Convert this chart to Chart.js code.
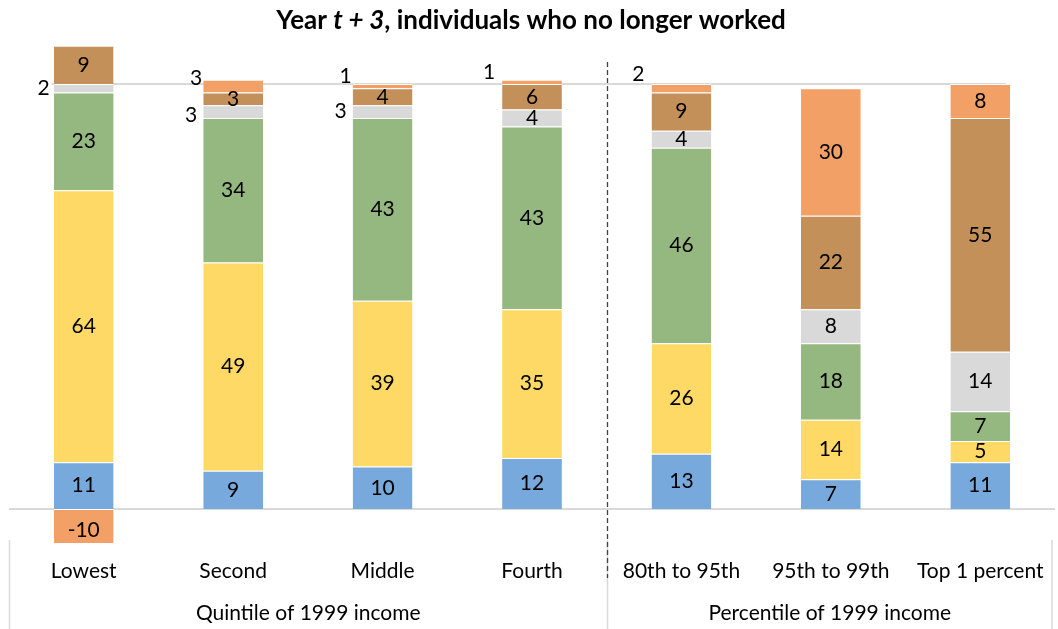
<!DOCTYPE html>
<html>
<head>
<meta charset="utf-8">
<script src="https://cdn.jsdelivr.net/npm/chart.js@4"></script>
<style>
  html, body { margin: 0; padding: 0; background: #fff; }
  #wrap { width: 1058px; height: 629px; }
</style>
</head>
<body>
<div id="wrap"><canvas id="chart" width="1058" height="629"></canvas></div>
<script>
const categories = ['Lowest', 'Second', 'Middle', 'Fourth', '80th to 95th', '95th to 99th', 'Top 1 percent'];
const groupLabels = ['Quintile of 1999 income', 'Percentile of 1999 income'];
const groupSplit = 3.5; // dashed divider sits between Fourth and 80th to 95th

// stacked segments, bottom to top
const seriesA = [11, 9, 10, 12, 13, 7, 11];
const seriesB = [64, 49, 39, 35, 26, 14, 5];
const seriesC = [23, 34, 43, 43, 46, 18, 7];
const seriesD = [2, 3, 3, 4, 4, 8, 14];
const seriesE = [9, 3, 4, 6, 9, 22, 55];
const seriesF = [-10, 3, 1, 1, 2, 30, 8];

const colors = ['#77a9dc', '#ffd966', '#94b880', '#d9d9d9', '#c4905a', '#f2a066'];
const FONT = 'Lato, "Open Sans", sans-serif';

// labels that were nudged outside their small segments (px from segment centre)
const labelNudge = {
  '3-0': [-40, 0],
  '3-1': [-42, 4],
  '5-1': [-37, -8],
  '3-2': [-42, 0],
  '5-2': [-37, -10],
  '5-3': [-43, -10],
  '5-4': [-43, -14]
};

const datasets = [seriesA, seriesB, seriesC, seriesD, seriesE, seriesF].map((d, i) => ({
  label: 'Series ' + (i + 1),
  data: d,
  backgroundColor: colors[i],
  borderColor: '#ffffff',
  borderWidth: { top: 1, bottom: 0, left: 0, right: 0 },
  borderSkipped: false,
  barPercentage: 0.4,
  categoryPercentage: 1.0
}));

const decor = {
  id: 'decor',
  beforeDatasetsDraw(chart) {
    const { ctx, scales: { x, y }, chartArea } = chart;
    ctx.save();
    ctx.strokeStyle = '#d9d9d9';
    ctx.lineWidth = 2;
    // zero line across the plot
    let y0 = Math.round(y.getPixelForValue(0));
    ctx.beginPath(); ctx.moveTo(chartArea.left, y0); ctx.lineTo(chartArea.right, y0); ctx.stroke();
    // 100 line
    let y100 = Math.round(y.getPixelForValue(100));
    ctx.beginPath();
    ctx.moveTo(x.getPixelForValue(0) - 32, y100);
    ctx.lineTo(x.getPixelForValue(6) + 26, y100);
    ctx.stroke();
    ctx.restore();
  },
  afterDatasetsDraw(chart) {
    const { ctx, scales: { x, y }, chartArea } = chart;
    ctx.save();
    // data labels
    ctx.fillStyle = '#000';
    ctx.font = '21px ' + FONT;
    ctx.textAlign = 'center';
    ctx.textBaseline = 'middle';
    chart.data.datasets.forEach((ds, di) => {
      const meta = chart.getDatasetMeta(di);
      meta.data.forEach((bar, i) => {
        const v = ds.data[i];
        const p = bar.getProps(['x', 'y', 'base'], true);
        let cx = p.x, cy = (p.y + p.base) / 2;
        const n = labelNudge[di + '-' + i];
        if (n) { cx += n[0]; cy += n[1]; }
        ctx.fillText(String(v), cx, cy);
      });
    });

    // title
    const W = chart.width;
    const parts = [
      ['bold ', 'Year '], ['italic bold ', 't + 3'], ['bold ', ', individuals who no longer worked']
    ];
    let total = 0;
    parts.forEach(pt => { ctx.font = pt[0] + '26px ' + FONT; total += ctx.measureText(pt[1]).width; });
    let tx = W / 2 - total / 2 + 2;
    ctx.textAlign = 'left';
    parts.forEach(pt => {
      ctx.font = pt[0] + '26px ' + FONT;
      ctx.fillText(pt[1], tx, 21);
      tx += ctx.measureText(pt[1]).width;
    });

    // category labels
    ctx.textAlign = 'center';
    ctx.font = '21px ' + FONT;
    categories.forEach((c, i) => ctx.fillText(c, x.getPixelForValue(i), 571));

    // group labels and separators
    const left = chartArea.left, right = chartArea.right - 3;
    const mid = Math.round(x.getPixelForValue(groupSplit)) + 0.5;
    ctx.fillText(groupLabels[0], (left + mid) / 2, 613);
    ctx.fillText(groupLabels[1], (mid + right) / 2, 613);

    ctx.strokeStyle = '#d9d9d9';
    ctx.lineWidth = 1.5;
    [left + 0.5, mid, right].forEach(xx => {
      ctx.beginPath(); ctx.moveTo(xx, 540); ctx.lineTo(xx, chart.height); ctx.stroke();
    });
    ctx.strokeStyle = '#404040';
    ctx.lineWidth = 1.3;
    ctx.setLineDash([5, 3]);
    ctx.beginPath(); ctx.moveTo(mid, 62); ctx.lineTo(mid, 578); ctx.stroke();
    ctx.restore();
  }
};

new Chart(document.getElementById('chart'), {
  type: 'bar',
  data: { labels: categories, datasets: datasets },
  options: {
    responsive: false,
    animation: false,
    layout: { padding: { left: 9, right: 3, top: 41.5, bottom: 86 } },
    plugins: { legend: { display: false }, title: { display: false }, tooltip: { enabled: false } },
    scales: {
      x: { stacked: true, display: false, offset: true },
      y: { stacked: true, display: false, min: -8, max: 110 }
    }
  },
  plugins: [decor]
});
</script>
</body>
</html>
